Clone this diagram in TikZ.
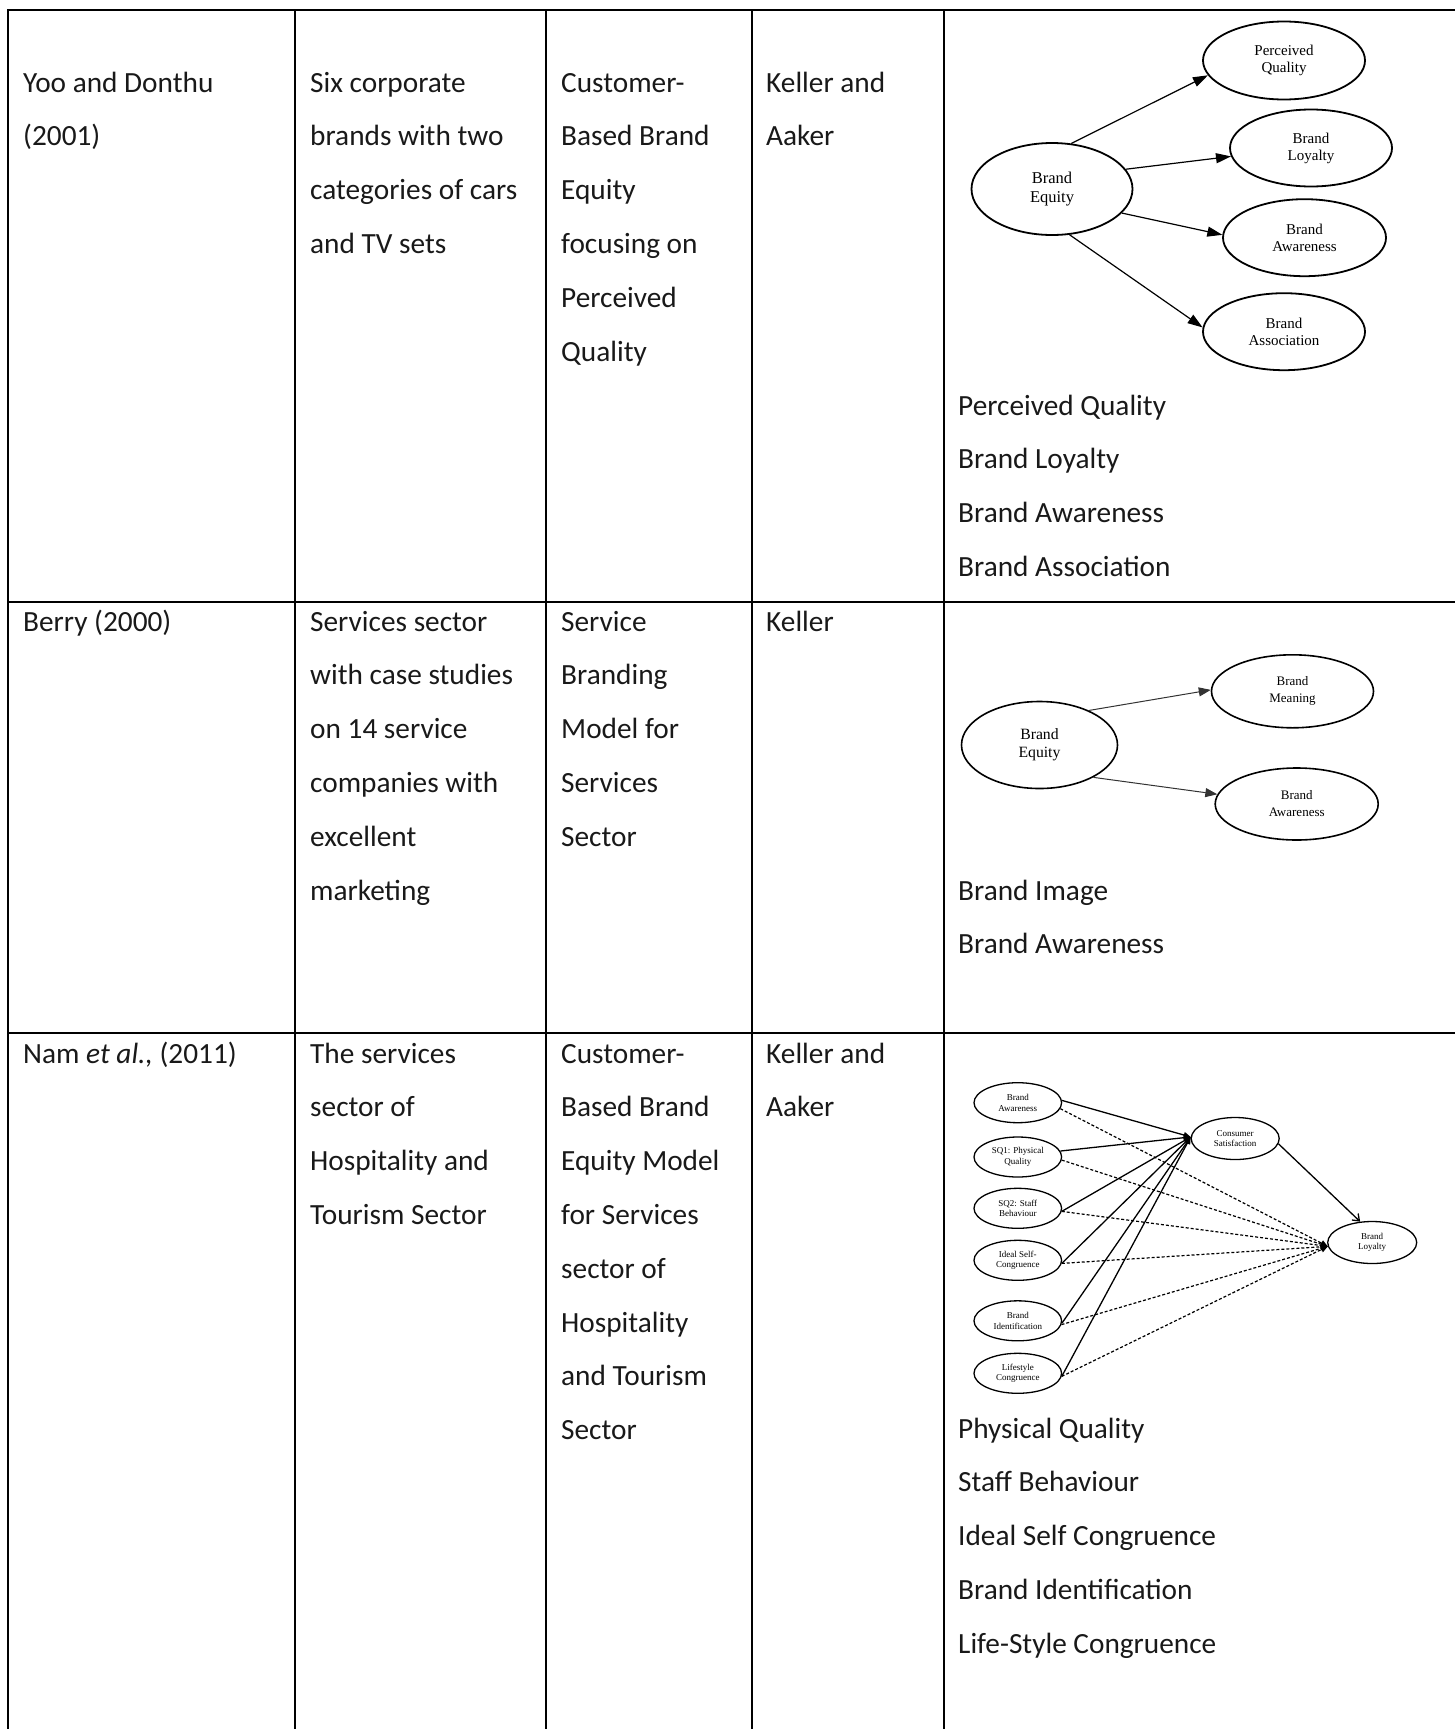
\documentclass[tikz,border=0pt]{standalone}
\usepackage{fontspec}
\setmainfont{Carlito}
\newfontfamily\diagfont{Liberation Serif}
\usetikzlibrary{shapes.geometric,arrows.meta}

% one line of cell text per entry, baselines 53.8pt apart
\newcommand\celllines[4]{%
  \foreach \t [count=\i from 0] in {#4}
    \node[celltext] (#1-\i) at (#2,{#3+53.8*\i}) {\t};}

\begin{document}
\begin{tikzpicture}[x=1pt,y=-1pt,
  rule/.style={line width=2pt, line cap=rect},
  celltext/.style={anchor=base west, inner sep=0pt, text=black!90,
    font=\fontsize{29.3}{35}\selectfont},
  bubble/.style={ellipse, draw, inner sep=0pt, align=center},
  big/.style={bubble, line width=1.8pt, font=\diagfont\fontsize{15}{17}\selectfont},
  mid/.style={bubble, line width=1.6pt, font=\diagfont\fontsize{13}{17}\selectfont},
  small/.style={bubble, line width=1.3pt, minimum width=87.6pt, minimum height=40pt,
    font=\diagfont\fontsize{9}{10.5}\selectfont},
  arrA/.style={line width=1.2pt, -{Triangle[length=15pt,width=10pt]}},
  arrB/.style={line width=1pt, black!80, -{Triangle[length=12pt,width=9pt]}},
  solidC/.style={line width=1.3pt, -{Triangle[length=7pt,width=6pt]}},
  dashC/.style={line width=1.2pt, dash pattern=on 3pt off 2pt, -{Triangle[length=7pt,width=6pt]}},
]
\useasboundingbox (0,0) rectangle (1455,1729);

% table rules
\draw[rule] (8,1731) -- (8,10) -- (1457,10);
\draw[rule] (8,602) -- (1457,602);
\draw[rule] (8,1033) -- (1457,1033);
\foreach \x in {295,546,752,944}
  \draw[rule] (\x,10) -- (\x,1731);

% row 1
\celllines{ra}{23}{92}{Yoo and Donthu,(2001)}
\celllines{rb}{310}{92}{Six corporate,brands with two,categories of cars,and TV sets}
\celllines{rc}{561}{92}{Customer-,Based Brand,Equity,focusing on,Perceived,Quality}
\celllines{rd}{766}{92}{Keller and,Aaker}
\celllines{re}{958}{415}{Perceived Quality,Brand Loyalty,Brand Awareness,Brand Association}

% row 2
\celllines{sa}{23}{631}{Berry (2000)}
\celllines{sb}{310}{631}{Services sector,with case studies,on 14 service,companies with,excellent,marketing}
\celllines{sc}{561}{631}{Service,Branding,Model for,Services,Sector}
\celllines{sd}{766}{631}{Keller}
\celllines{se}{958}{900}{Brand Image,Brand Awareness}

% row 3
\celllines{ta}{23}{1063}{{Nam \textit{et al.,} (2011)}}
\celllines{tb}{310}{1063}{The services,sector of,Hospitality and,Tourism Sector}
\celllines{tc}{561}{1063}{Customer-,Based Brand,Equity Model,for Services,sector of,Hospitality,and Tourism,Sector}
\celllines{td}{766}{1063}{Keller and,Aaker}
\celllines{te}{958}{1438}{Physical Quality,Staff Behaviour,Ideal Self Congruence,Brand Identification,Life-Style Congruence}

% model 1: brand equity and its four dimensions
\node[big, minimum width=161pt, minimum height=92pt,
  font=\diagfont\fontsize{16.5}{18.5}\selectfont] (be1) at (1052,189) {Brand\\Equity};
\node[big, minimum width=162pt, minimum height=78pt] (pq1) at (1284,60.5) {Perceived\\Quality};
\node[big, minimum width=162pt, minimum height=77pt] (bl1) at (1311,148) {Brand\\Loyalty};
\node[big, minimum width=163pt, minimum height=77pt] (ba1) at (1304.5,237.7) {Brand\\Awareness};
\node[big, minimum width=162pt, minimum height=77pt] (bs1) at (1284,331.7) {Brand\\Association};
\draw[arrA] (be1.67) -- (pq1.191);
\draw[arrA] (be1.15) -- (bl1.186);
\draw[arrA] (be1.341) -- (ba1.178);
\draw[arrA] (be1.291) -- (bs1.177);

% model 2: service brand equity
\node[mid, minimum width=156pt, minimum height=87pt,
  font=\diagfont\fontsize{15.7}{18.3}\selectfont] (be2) at (1039.5,745) {Brand\\Equity};
\node[mid, minimum width=162pt, minimum height=73pt] (bm2) at (1292.5,691.3) {Brand\\Meaning};
\node[mid, minimum width=163pt, minimum height=72pt] (ba2) at (1296.7,804) {Brand\\Awareness};
\draw[arrB] (be2.35) -- (bm2.179);
\draw[arrB] (be2.329) -- (ba2.173);

% model 3: antecedents of satisfaction and loyalty
\node[small] (a3) at (1017.8,1102.7) {Brand\\Awareness};
\node[small] (q13) at (1017.8,1157) {SQ1: Physical\\Quality};
\node[small] (q23) at (1017.8,1208.3) {SQ2: Staff\\Behaviour};
\node[small] (is3) at (1017.8,1260.3) {Ideal Self-\\Congruence};
\node[small] (bi3) at (1017.8,1320.8) {Brand\\Identification};
\node[small] (lc3) at (1017.8,1373.3) {Lifestyle\\Congruence};
\node[small, minimum width=88pt, minimum height=42pt] (cs3) at (1235.2,1138.5) {Consumer\\Satisfaction};
\node[small, minimum width=89pt, minimum height=42pt] (bl3) at (1372.2,1242.5) {Brand\\Loyalty};

\draw[solidC] (a3.3) -- (cs3.178);
\draw[solidC] (q13.8) -- (cs3.178);
\draw[solidC] (q23.356) -- (cs3.178);
\draw[solidC] (is3.356) -- (cs3.178);
\draw[solidC] (bi3.357) -- (cs3.178);
\draw[solidC] (lc3.356) -- (cs3.178);

\draw[dashC] (a3.352) -- (bl3.185);
\draw[dashC] (q13.356) -- (bl3.185);
\draw[dashC] (q23.356) -- (bl3.185);
\draw[dashC] (is3.356) -- (bl3.185);
\draw[dashC] (bi3.355) -- (bl3.185);
\draw[dashC] (lc3.356) -- (bl3.185);

\draw[line width=1.3pt, -{Straight Barb[length=6pt,width=9pt]}] (cs3.353) -- (bl3.120);
\end{tikzpicture}
\end{document}
